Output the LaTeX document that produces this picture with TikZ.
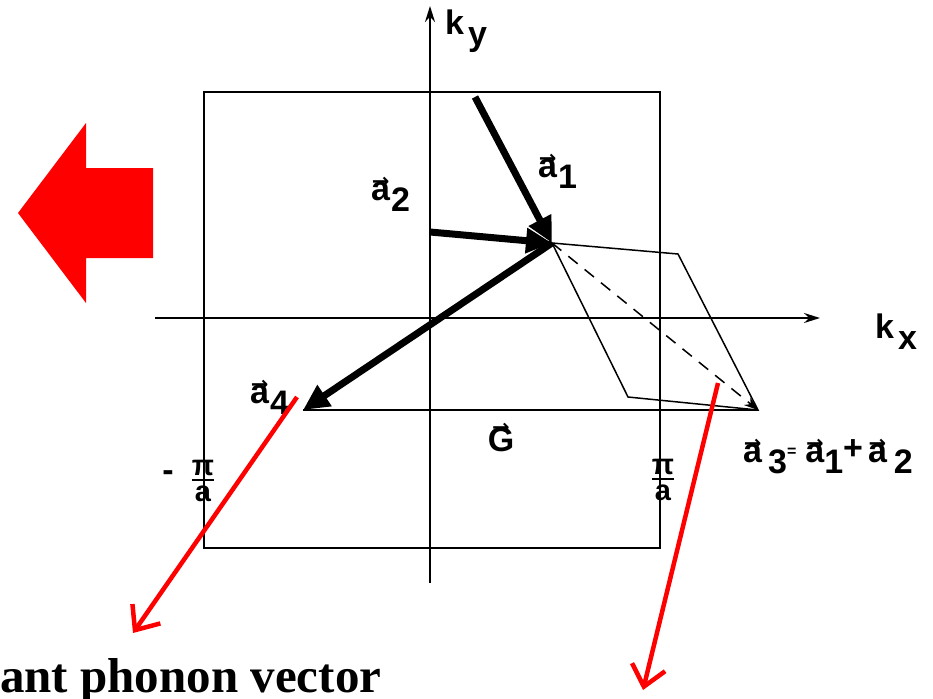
\documentclass[tikz,border=0pt]{standalone}
\usepackage{fontspec}
\setmainfont{Liberation Serif}
\setsansfont{Liberation Sans}
\newfontfamily\djv{DejaVu Sans}
\usetikzlibrary{arrows.meta}
\newcommand{\va}[1]{\vbox{\offinterlineskip\halign{\hfil##\hfil\cr{\djv\bfseries\fontsize{21}{21}\selectfont →}\cr\noalign{\kern-7pt}#1\cr}}}
\newcommand{\sbx}[1]{\raisebox{-11pt}{#1}}
\newcommand{\pifrac}{\vbox{\offinterlineskip\halign{\hfil##\hfil\cr π\cr\noalign{\kern4pt\hrule height 2pt\kern5pt} a\cr}}}
\begin{document}
\begin{tikzpicture}[x=1pt,y=-1pt,
  axisline/.style={line width=2pt,-{Stealth[length=16pt,width=10pt]}},
  boxline/.style={line width=2.5pt},
  vecline/.style={line width=7pt,-{Triangle[length=26pt,width=24pt]}},
  thinline/.style={line width=1.5pt},
  redarrow/.style={red,line width=4.5pt,-{Straight Barb[length=20pt,width=34pt]}},
  lbl/.style={font=\fontsize{34}{36}\selectfont\sffamily\bfseries,inner sep=0pt},
  frac/.style={font=\fontsize{29}{31}\selectfont\sffamily\bfseries,inner sep=0pt}]
\useasboundingbox (0,0) rectangle (933,698);
% coordinates
\coordinate (yb) at (430,583); \coordinate (yt) at (430,6);
\coordinate (xl) at (155,318); \coordinate (xr) at (820,318);
\coordinate (a1s) at (475,97); \coordinate (P) at (552,243);
\coordinate (a2s) at (430,232); \coordinate (A4) at (303,410);
\coordinate (Q) at (678,254); \coordinate (R) at (758,410); \coordinate (S) at (628,397);
\coordinate (r1s) at (297,397); \coordinate (r1e) at (133,633);
\coordinate (r2s) at (718,383); \coordinate (r2e) at (643,690);
% zone box and axes
\draw[boxline] (204,92) rectangle (660,548);
\draw[axisline] (yb) -- (yt);
\draw[axisline] (xl) -- (xr);
% parallelogram
\draw[thinline] (P) -- (Q) -- (R) -- (S) -- cycle;
\draw[thinline,dash pattern=on 12pt off 9pt,-{Stealth[length=14pt,width=10pt]}] (P) -- (R);
\draw[thinline] (R) -- (A4);
% vectors
\draw[vecline] (a1s) -- (P);
\draw[vecline] (a2s) -- (P);
\draw[vecline] (P) -- (A4);
% labels
\node[lbl,anchor=base west] (ky) at (445,35) {k\hspace{4pt}\sbx{y}};
\node[lbl,anchor=base west] (kx) at (875,338) {k\hspace{4pt}\sbx{x}};
\node[lbl,anchor=base west] (la1) at (538,177) {\va{a}\hspace{1pt}\sbx{1}};
\node[lbl,anchor=base west] (la2) at (371,200) {\va{a}\hspace{1pt}\sbx{2}};
\node[lbl,anchor=base west] (la4) at (250,403) {\va{a}\hspace{1pt}\sbx{4}};
\node[lbl,anchor=base] (lG) at (501,451) {\va{G}};
\node[lbl,anchor=base west] (la3) at (743,462) {\va{a}\hspace{6pt}\sbx{3}\raisebox{6pt}{\fontsize{16}{16}\selectfont=}\hspace{9pt}\va{a}\sbx{1}\raisebox{3pt}{+}\hspace{5pt}\va{a}\hspace{7pt}\sbx{2}};
\node[lbl] (mi) at (168,476) {-};
\node[frac] (fl) at (203,481) {\pifrac};
\node[frac] (fr) at (663,480) {\pifrac};
% red annotations
\fill[red] (18,213) -- (86,123) -- (86,168) -- (153,168) -- (153,258) -- (86,258) -- (86,303) -- cycle;
\draw[redarrow] (r1s) -- (r1e);
\draw[redarrow] (r2s) -- (r2e);
\node[anchor=base west,inner sep=0pt,font=\fontsize{49}{50}\selectfont\rmfamily\bfseries] (txt) at (0,692) {ant phonon vector};
\end{tikzpicture}
\end{document}
